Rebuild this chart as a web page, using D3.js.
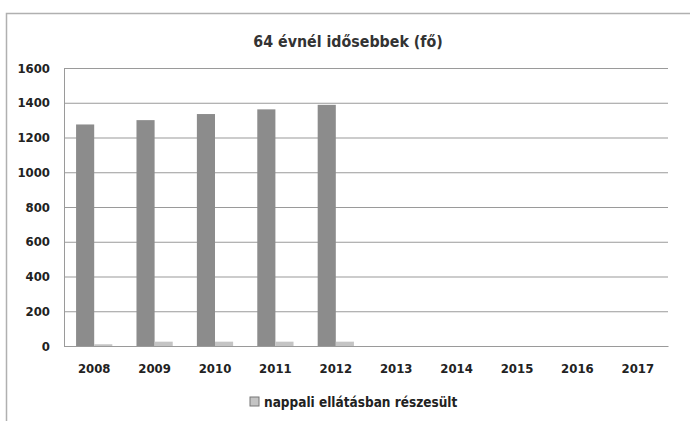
<!DOCTYPE html>
<html><head><meta charset="utf-8">
<script src="https://cdn.jsdelivr.net/npm/d3@7"></script>
<style>body{margin:0;background:#fff}svg{display:block}</style>
</head><body>
<svg id="c" width="690" height="421"></svg>
<script>
const categories = ["2008","2009","2010","2011","2012","2013","2014","2015","2016","2017"];
const seriesTotal = [1275, 1300, 1335, 1362, 1388, null, null, null, null, null];
const seriesDay = [10, 25, 25, 25, 25, null, null, null, null, null];
const yTicks = [0,200,400,600,800,1000,1200,1400,1600];
const title = "64 évnél idősebbek (fő)";
const legendLabel = "nappali ellátásban részesült";

const svg = d3.select("#c");
const font = "'DejaVu Sans Condensed','DejaVu Sans',sans-serif";
const m = {l:64, r:668, t:68, b:346};

svg.append("rect").attr("x",6.5).attr("y",13.5).attr("width",700).attr("height",420)
  .attr("fill","none").attr("stroke","#b0b0b0").attr("stroke-width",1.5);

const x = d3.scaleBand().domain(categories).range([m.l,m.r]).paddingInner(0.4).paddingOuter(0.2);
const y = d3.scaleLinear().domain([0,1600]).range([m.b,m.t]);

svg.append("text").attr("x",348).attr("y",47).attr("text-anchor","middle")
  .attr("font-family",font).attr("font-weight","bold").attr("font-size",15.8).attr("fill","#333").text(title);

const grid = svg.append("g").attr("transform",`translate(${m.l},0)`)
  .call(d3.axisLeft(y).tickValues(yTicks).tickSize(-(m.r-m.l)).tickFormat(""));
grid.selectAll("line").attr("stroke","#9a9a9a").attr("stroke-width",1.2);
grid.select(".domain").attr("stroke","#9a9a9a");

const yl = svg.append("g").attr("transform",`translate(${m.l-11},0)`)
  .call(d3.axisLeft(y).tickValues(yTicks).tickSize(0).tickFormat(d3.format("d")));
yl.select(".domain").remove();
yl.selectAll("text").attr("font-family",font).attr("font-weight","bold").attr("font-size",13).attr("fill","#222");

const bw = x.bandwidth()/2;
svg.append("g").selectAll("rect").data(categories.filter((c,i)=>seriesTotal[i]!=null)).join("rect")
  .attr("x",d=>x(d)).attr("width",bw)
  .attr("y",d=>y(seriesTotal[categories.indexOf(d)]))
  .attr("height",d=>m.b-y(seriesTotal[categories.indexOf(d)]))
  .attr("fill","#8c8c8c");
svg.append("g").selectAll("rect").data(categories.filter((c,i)=>seriesDay[i]!=null)).join("rect")
  .attr("x",d=>x(d)+bw).attr("width",bw)
  .attr("y",d=>y(seriesDay[categories.indexOf(d)]))
  .attr("height",d=>m.b-y(seriesDay[categories.indexOf(d)]))
  .attr("fill","#c4c4c4");

const xa = svg.append("g").attr("transform",`translate(0,${m.b})`)
  .call(d3.axisBottom(x).tickSize(0).tickPadding(18));
xa.select(".domain").attr("stroke","#9a9a9a").attr("stroke-width",1.2);
xa.selectAll("text").attr("font-family",font).attr("font-weight","bold").attr("font-size",13).attr("fill","#222");

const lg = svg.append("g").attr("transform","translate(250,397)");
lg.append("rect").attr("width",9).attr("height",9).attr("fill","#c4c4c4").attr("stroke","#777");
lg.append("text").attr("x",14).attr("y",10).attr("font-family",font).attr("font-weight","bold")
  .attr("font-size",13.5).attr("fill","#222").text(legendLabel);
</script>
</body></html>
